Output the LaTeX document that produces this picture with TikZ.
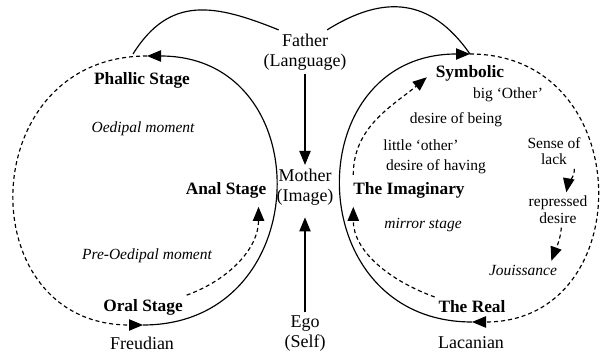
\documentclass[tikz,border=0pt]{standalone}
\usepackage{fontspec}
\setmainfont{Liberation Serif}
\usetikzlibrary{arrows.meta}

\begin{document}
\begin{tikzpicture}[x=0.6pt,y=-0.6pt,line width=0.7pt,
  arr/.style={-{Triangle[length=8.4pt,width=6.8pt]}},
  dash line/.style={dash pattern=on 2.4pt off 1.8pt},
  mainlbl/.style={align=center,inner sep=2pt,font=\fontsize{10.8}{12}\selectfont},
  stage/.style={inner sep=2pt,font=\fontsize{10.4}{12}\selectfont\bfseries},
  moment/.style={inner sep=2pt,font=\fontsize{9.3}{11}\selectfont\itshape},
  note/.style={align=center,inner sep=2pt,font=\fontsize{9.3}{10}\selectfont}]
\useasboundingbox (0,0) rectangle (600,352);
% middle column
\node[mainlbl] (fa) at (305,52) {Father\\(Language)};
\node[mainlbl] (mo) at (305,187) {Mother\\(Image)};
\node[mainlbl] (ego) at (305,334) {Ego\\(Self)};
\draw[arr] (fa.south) -- (mo.north);
\draw[arr,shorten >=5pt] (ego.north) -- (mo.south);
% Freudian loop
\node[stage] (phal) at (142,80) {Phallic Stage};
\node[moment] (oed) at (143,129) {Oedipal moment};
\node[stage] (anal) at (226,190) {Anal Stage};
\node[moment] (preoed) at (147,256) {Pre-Oedipal moment};
\node[stage] (oral) at (143,307) {Oral Stage};
\node[mainlbl] (freud) at (142,343) {Freudian};
\coordinate (ltop) at (147,56);
\coordinate (lbot) at (143,325);
\coordinate (lj) at (133,54);
\draw[arr,dash line] (ltop) to[out=180,in=180,looseness=1.65] (lbot);
\draw[arr] (lbot) to[out=0,in=0,looseness=1.65] (ltop);
\draw[arr,dash line,shorten >=3pt] (oral.north east) to[out=20,in=-90] (anal.-20);
% Lacanian loop
\node[stage] (sym) at (470,73) {Symbolic};
\node[note] (bigo) at (508,95) {big ‘Other’};
\node[note] (dbeing) at (456,120) {desire of being};
\node[note] (littleo) at (421,145) {little ‘other’};
\node[note] (dhaving) at (436,167) {desire of having};
\node[note] (lack) at (554,151) {Sense of\\lack};
\node[stage] (imag) at (409,190) {The Imaginary};
\node[note] (rep) at (558,210) {repressed\\desire};
\node[moment] (mirror) at (423,225) {mirror stage};
\node[moment] (jou) at (523,270) {Jouissance};
\node[stage] (real) at (472,307) {The Real};
\node[mainlbl] (lacan) at (471,343) {Lacanian};
\coordinate (rtop) at (470,54);
\coordinate (rbot) at (472,322);
\draw[arr] (rbot) to[out=180,in=180,looseness=1.65] (rtop);
\draw[arr,dash line] (rtop) to[out=0,in=0,looseness=1.6] (rbot);
\draw[arr,dash line,shorten >=3pt] (real.north west) to[out=160,in=-90] (imag.-168);
\draw[arr,dash line,shorten <=2pt,shorten >=4pt] (imag.168) to[out=90,in=220] (sym.west);
\draw[arr,dash line] ([xshift=-6pt]lack.south east) to[out=-90,in=80] ([xshift=5pt]rep.north);
\draw[arr,dash line] ([xshift=2pt]rep.south) to[out=-95,in=70] ([xshift=17pt]jou.north);
% Father arcs
\draw (lj) to[out=58,in=158,looseness=1.2] (fa.140);
\draw (fa.45) to[out=32,in=125,looseness=1.2] (rtop);
\end{tikzpicture}
\end{document}
